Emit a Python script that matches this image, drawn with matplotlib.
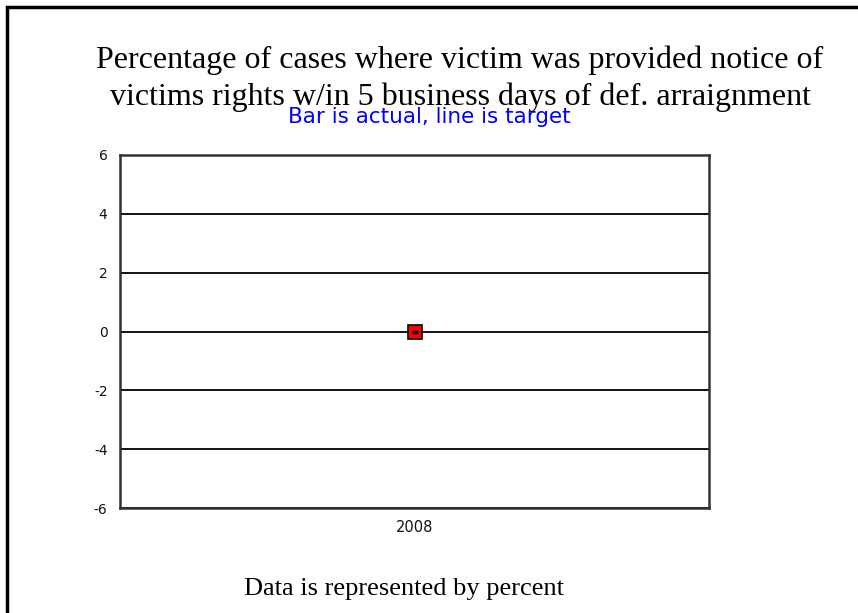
import matplotlib
matplotlib.use("Agg")
import matplotlib.pyplot as plt
from matplotlib.patches import Rectangle

categories = ["2008"]
actual = [0]
target = [0]
yticks = [-6, -4, -2, 0, 2, 4, 6]

fig = plt.figure(figsize=(8.58, 6.13), dpi=100)
fig.patch.set_facecolor("white")

# outer frame (top and left visible, right/bottom beyond image)
fig.patches.append(Rectangle((7/858, -0.1), 1.2, 1 - 7/613 + 0.1, transform=fig.transFigure,
                             fill=False, edgecolor="black", linewidth=2.5))

ax = fig.add_axes([120/858, 1 - 508/613, (709-120)/858, (508-155)/613])
x = list(range(len(categories)))
ax.set_xlim(-0.5, len(categories) - 0.5)
ax.set_ylim(-6, 6)
ax.set_yticks(yticks)
ax.set_yticklabels([str(t) for t in yticks], fontsize=10, family="DejaVu Sans", color="#111111")
ax.set_xticks(x)
ax.set_xticklabels(categories, fontsize=10.5, family="DejaVu Sans", color="#111111")
ax.tick_params(axis="y", length=0, pad=9)
ax.tick_params(axis="x", length=0, pad=9)
for t in yticks:
    ax.axhline(t, color="black", linewidth=1.3, zorder=1)
for s in ax.spines.values():
    s.set_color("#333333")
    s.set_linewidth(1.8)

# actual bar (zero-height) shown as red square, target as black tick
ax.plot(x, actual, linestyle="none", marker="s", markersize=10,
        markerfacecolor="#ff0000", markeredgecolor="black", markeredgewidth=1.2, zorder=3)
ax.plot(x, target, linestyle="none", marker="_", markersize=5, markeredgewidth=2.5,
        color="black", zorder=4)

fig.text(460/858, 1 - 60/613, "Percentage of cases where victim was provided notice of",
         ha="center", va="center", fontsize=23, family="Liberation Serif")
fig.text(460/858, 1 - 97/613, "victims rights w/in 5 business days of def. arraignment",
         ha="center", va="center", fontsize=23, family="Liberation Serif")
fig.text(429/858, 1 - 117/613, "Bar is actual, line is target",
         ha="center", va="center", fontsize=15.5, color="#0000ff", family="DejaVu Sans")
fig.text(404/858, 1 - 589/613, "Data is represented by percent",
         ha="center", va="center", fontsize=19, family="Liberation Serif")

fig.savefig("out.png", dpi=100)
